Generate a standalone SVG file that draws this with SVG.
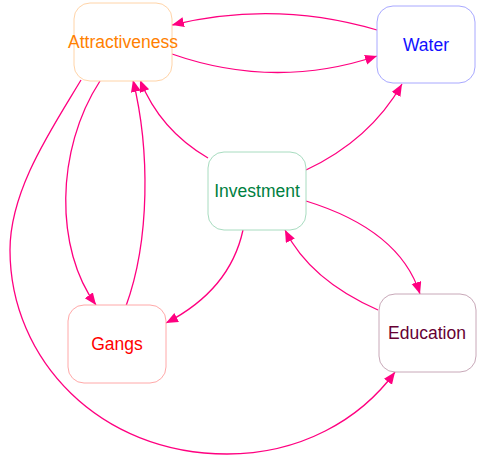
<svg xmlns="http://www.w3.org/2000/svg" width="477" height="463" viewBox="0 0 477 463">
<style>
.box{fill:#ffffff;stroke-width:1}
.lbl{font-family:"Liberation Sans",Arial,sans-serif;font-size:17.5px;text-anchor:middle}
.edge{fill:none;stroke:#ff0080;stroke-width:1.3;marker-end:url(#arr)}
</style>
<defs>
<marker id="arr" markerUnits="userSpaceOnUse" markerWidth="13" markerHeight="11" refX="12" refY="5" orient="auto">
<path d="M0,0 L12,5 L0,10 z" fill="#ff0080"/>
</marker>
</defs>
<rect width="477" height="463" fill="#ffffff"/>
<g id="connectors">
<path class="edge" d="M377,30 Q275,0 172,25"/>
<path class="edge" d="M172,54 Q275,90 377,56"/>
<path class="edge" d="M208,158 Q160,130 140,80"/>
<path class="edge" d="M100,81 C55,150 55,250 96,305"/>
<path class="edge" d="M126,306 C150,240 150,150 133,80"/>
<path class="edge" d="M81,80 C51,130 10,190 10,250 C10,360 100,454 227,454 C300,454 360,420 395,372"/>
<path class="edge" d="M306,170 Q370,140 402,84"/>
<path class="edge" d="M243,230 Q230,290 166,323"/>
<path class="edge" d="M306,201 Q400,230 420,294"/>
<path class="edge" d="M378,310 Q310,280 285,230"/>
</g>
<g id="attractiveness">
<rect class="box" x="74" y="3" width="98" height="78" rx="16" stroke="#ffd4a8"/>
<text class="lbl" x="123" y="48" fill="#ff8000">Attractiveness</text>
</g>
<g id="water">
<rect class="box" x="377" y="6" width="98" height="77" rx="16" stroke="#a8a8ff"/>
<text class="lbl" x="426" y="51" fill="#1010ff">Water</text>
</g>
<g id="investment">
<rect class="box" x="208" y="152" width="98" height="78" rx="16" stroke="#a8dcc0"/>
<text class="lbl" x="257" y="197" fill="#00803f">Investment</text>
</g>
<g id="gangs">
<rect class="box" x="68" y="305" width="98" height="78" rx="16" stroke="#ffa8a8"/>
<text class="lbl" x="117" y="350" fill="#ff0000">Gangs</text>
</g>
<g id="education">
<rect class="box" x="379" y="294" width="97" height="78" rx="16" stroke="#c8a8b8"/>
<text class="lbl" x="427" y="339" fill="#660033">Education</text>
</g>
</svg>
